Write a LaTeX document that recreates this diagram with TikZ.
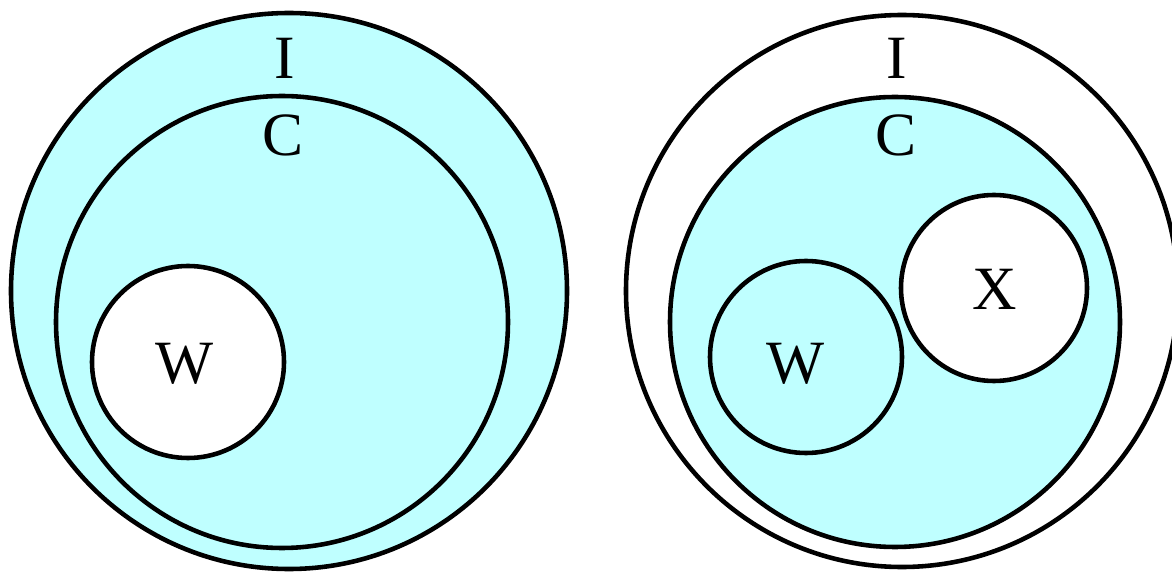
\documentclass[tikz,border=0pt]{standalone}
\usepackage{fontspec}
\setmainfont{Liberation Serif}
\usetikzlibrary{positioning}
\usepackage{xcolor}
\definecolor{vnfill}{RGB}{191,255,255}
\definecolor{vnink}{RGB}{0,0,0}

\begin{document}
\begin{tikzpicture}[
  x=0.01cm, y=-0.01cm,
  ring/.style={draw=vnink, line width=1.3pt},
  lbl/.style={font=\fontsize{17.5}{20}\selectfont, inner sep=0pt, text=vnink}
]
\useasboundingbox (0,0) rectangle (1172,573);

% left: I and C shaded, W left out
\draw[ring, fill=vnfill] (289,291) circle (278);
\draw[ring, fill=vnfill] (282,322) circle (226);
\draw[ring, fill=white] (188,362) circle (96);
\node[lbl] (iL) at (285,58) {I};
\node[lbl] (cL) at (283,135) {C};
\node[lbl] (wL) at (185,364) {W};

% right: only C shaded, X left out
\draw[ring, fill=white] (902,291) circle (276);
\draw[ring, fill=vnfill] (895,322) circle (225);
\draw[ring, fill=vnfill] (806,357) circle (96);
\draw[ring, fill=white] (994,288) circle (93);
\node[lbl] (iR) at (897,58) {I};
\node[lbl] (cR) at (896,135) {C};
\node[lbl] (wR) at (796,364) {W};
\node[lbl] (xR) at (995,289) {X};
\end{tikzpicture}
\end{document}
